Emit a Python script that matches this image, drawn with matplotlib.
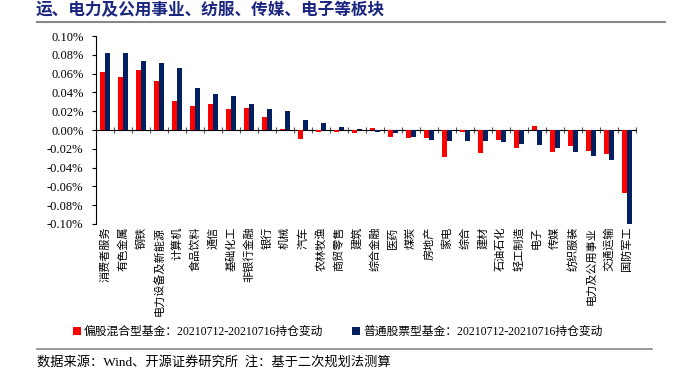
import matplotlib
matplotlib.use('Agg')
import matplotlib.pyplot as plt
import numpy as np
from matplotlib.ticker import FuncFormatter

plt.rcParams['font.family'] = ['Noto Sans CJK SC', 'DejaVu Sans']

industries = ['消费者服务', '有色金属', '钢铁', '电力设备及新能源', '计算机', '食品饮料', '通信',
              '基础化工', '非银行金融', '银行', '机械', '汽车', '农林牧渔', '商贸零售', '建筑',
              '综合金融', '医药', '煤炭', '房地产', '家电', '综合', '建材', '石油石化', '轻工制造',
              '电子', '传媒', '纺织服装', '电力及公用事业', '交通运输', '国防军工']

# 持仓变动，单位 %
mixed_fund = [0.0618, 0.0562, 0.0640, 0.0523, 0.0311, 0.0258, 0.0276, 0.0219, 0.0237, 0.0141,
              0.0010, -0.0095, -0.0018, -0.0020, -0.0035, 0.0022, -0.0078, -0.0085, -0.0085, -0.0283,
              -0.0018, -0.0247, -0.0110, -0.0187, 0.0042, -0.0230, -0.0173, -0.0219, -0.0254, -0.0671]
stock_fund = [0.0823, 0.0816, 0.0731, 0.0714, 0.0660, 0.0452, 0.0382, 0.0360, 0.0279, 0.0226,
              0.0205, 0.0110, 0.0070, 0.0035, 0.0010, -0.0016, -0.0035, -0.0076, -0.0108, -0.0113,
              -0.0113, -0.0113, -0.0131, -0.0152, -0.0159, -0.0194, -0.0230, -0.0276, -0.0318, -0.1020]

legend_labels = ['偏股混合型基金：20210712-20210716持仓变动', '普通股票型基金：20210712-20210716持仓变动']
title = '运、电力及公用事业、纺服、传媒、电子等板块'
source = '数据来源：Wind、开源证券研究所  注：基于二次规划法测算'

red = '#FF0000'
navy = '#002060'
serif = ['Liberation Serif', 'Noto Sans CJK SC']

fig = plt.figure(figsize=(6.81, 3.72), dpi=100)
ax = fig.add_axes([0.141, 0.398, 0.793, 0.505])

x = np.arange(len(industries))
w = 0.28
b1 = ax.bar(x - 0.15, mixed_fund, w, color=red, label=legend_labels[0])
b2 = ax.bar(x + 0.13, stock_fund, w, color=navy, label=legend_labels[1])

ax.set_xlim(-0.5, len(industries) - 0.5)
ax.set_ylim(-0.10, 0.10)
ax.set_yticks(np.linspace(-0.10, 0.10, 11))
ax.yaxis.set_major_formatter(FuncFormatter(lambda v, p: f'{v:.2f}%'))
for lab in ax.get_yticklabels():
    lab.set_family(serif)
    lab.set_fontsize(9)
ax.tick_params(axis='y', direction='out', length=3, width=0.8, pad=6)

ax.set_xticks(x)
ax.set_xticklabels(industries, rotation=90, fontsize=8, va='top')
ax.tick_params(axis='x', length=0, pad=2)

for s in ['top', 'right', 'bottom']:
    ax.spines[s].set_visible(False)
ax.spines['left'].set_linewidth(0.8)

# 零轴及分隔刻度
zero_ax = ax.secondary_xaxis(0.5)
zero_ax.set_xticks(np.arange(-0.5, len(industries), 1))
zero_ax.set_xticklabels([])
zero_ax.tick_params(axis='x', direction='inout', length=4, width=0.8, color='#555555')
zero_ax.spines['bottom'].set_linewidth(0.8)
zero_ax.spines['top'].set_linewidth(0.8)

leg = fig.legend(handles=[b1, b2], loc='center left', bbox_to_anchor=(0.107, 0.108), ncol=2,
                 frameon=False, fontsize=8.5, handlelength=0.7, handleheight=0.7,
                 columnspacing=2.4, handletextpad=0.25, borderaxespad=0, borderpad=0)
for t in leg.get_texts():
    t.set_family(serif)

fig.text(0.053, 0.973, title, color='#1A2680', fontsize=12, fontweight='bold', va='center', ha='left')
fig.add_artist(plt.Line2D([0.054, 0.977], [0.941, 0.941], color='#888888', lw=1.5))
fig.add_artist(plt.Line2D([0.054, 0.958], [0.062, 0.062], color='#888888', lw=1.2))
fig.text(0.054, 0.027, source, fontsize=9.5, va='center', ha='left', family=serif)

fig.savefig('out.png', dpi=100)
